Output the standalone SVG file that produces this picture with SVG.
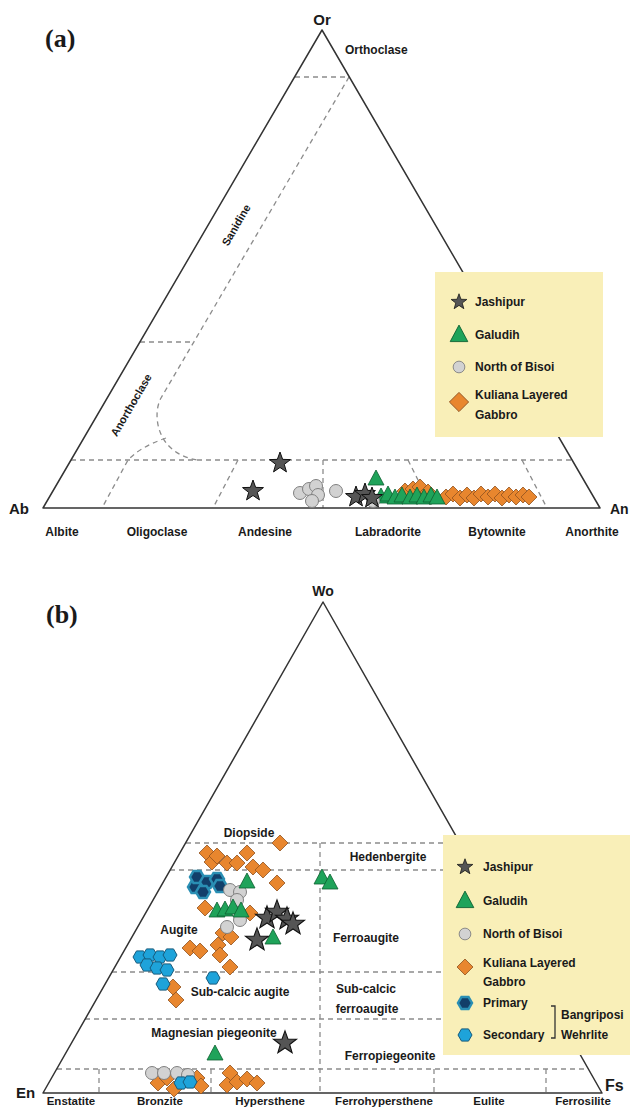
<svg xmlns="http://www.w3.org/2000/svg" xmlns:xlink="http://www.w3.org/1999/xlink" width="630" height="1109" viewBox="0 0 630 1109">
<style>
.t{font-family:"Liberation Sans","DejaVu Sans",sans-serif;font-weight:bold;font-size:12px;fill:#1a1a1a}
.c{text-anchor:middle}
.pl{font-family:"Liberation Serif","DejaVu Serif",serif;font-weight:bold;font-size:26px;fill:#1a1a1a}
.edge{fill:none;stroke:#333;stroke-width:1.5;stroke-linejoin:round}
.dash{fill:none;stroke:#8c8c8c;stroke-width:1.3;stroke-dasharray:5 4}
.leg{fill:#f9efb8}
.star{fill:#555;stroke:#111;stroke-width:1}
.tri{fill:#1fa35a;stroke:#0d5f30;stroke-width:0.8}
.cir{fill:#d2d2d2;stroke:#808080;stroke-width:1}
.dia{fill:#e8862e;stroke:#8f5220;stroke-width:0.8}
.pri{fill:#123f6a;stroke:#2a8fb4;stroke-width:2.5}
.sec{fill:#1ea3da;stroke:#175b7c;stroke-width:1}
.bl{font-size:11.5px}
</style>
<defs>
<path id="star" d="M0,-11 L2.645,-3.64 L10.46,-3.4 L4.28,1.39 L6.47,8.9 L0,4.5 L-6.47,8.9 L-4.28,1.39 L-10.46,-3.4 L-2.645,-3.64 Z"/>
<path id="tri" d="M0,-9 L8,6 L-8,6 Z"/>
<path id="dia" d="M0,-8 L8,0 L0,8 L-8,0 Z"/>
<circle id="cir" r="6.5"/>
<path id="hex" d="M7,0 L3.5,6.1 L-3.5,6.1 L-7,0 L-3.5,-6.1 L3.5,-6.1 Z"/>
</defs>

<!-- ================= Panel (a) ================= -->
<g id="panel-a">
<text class="pl" x="45" y="47">(a)</text>
<g id="a-grid">
<path class="dash" d="M295,77 H349"/>
<path class="dash" d="M349,77 L161,398 C152,414 156,454 198,460"/>
<path class="dash" d="M140,342 H194"/>
<path class="dash" d="M166,438 Q140,447 128,460 L102,508"/>
<path class="dash" d="M71,460 H572"/>
<path class="dash" d="M238,460 L213,508"/>
<path class="dash" d="M323,460 V508"/>
<path class="dash" d="M408,460 L432,508"/>
<path class="dash" d="M522,460 L547,508"/>
</g>
<path class="edge" d="M43,508 L322,30 L600,508 Z"/>
<text class="t c" x="322" y="25" style="font-size:15px">Or</text>
<text class="t" x="345" y="54">Orthoclase</text>
<text class="t c" x="236" y="229" transform="rotate(-59.7 236 225)" style="font-size:11px">Sanidine</text>
<text class="t c" x="131" y="409" transform="rotate(-59.7 131 405)" style="font-size:11px">Anorthoclase</text>
<text class="t" x="9" y="514" style="font-size:15px">Ab</text>
<text class="t" x="610" y="514" style="font-size:14px">An</text>
<text class="t c" x="62" y="536">Albite</text>
<text class="t c" x="157" y="536">Oligoclase</text>
<text class="t c" x="265" y="536">Andesine</text>
<text class="t c" x="388" y="536">Labradorite</text>
<text class="t c" x="497" y="536">Bytownite</text>
<text class="t c" x="592" y="536">Anorthite</text>

<g id="a-data">
<use href="#dia" class="dia" x="446" y="497"/>
<use href="#dia" class="dia" x="453" y="494"/>
<use href="#dia" class="dia" x="460" y="498"/>
<use href="#dia" class="dia" x="467" y="495"/>
<use href="#dia" class="dia" x="474" y="498"/>
<use href="#dia" class="dia" x="481" y="494"/>
<use href="#dia" class="dia" x="488" y="497"/>
<use href="#dia" class="dia" x="495" y="494"/>
<use href="#dia" class="dia" x="502" y="498"/>
<use href="#dia" class="dia" x="509" y="495"/>
<use href="#dia" class="dia" x="516" y="497"/>
<use href="#dia" class="dia" x="523" y="495"/>
<use href="#dia" class="dia" x="529" y="497"/>
<use href="#dia" class="dia" x="405" y="491"/>
<use href="#dia" class="dia" x="413" y="489"/>
<use href="#dia" class="dia" x="420" y="487"/>
<use href="#dia" class="dia" x="428" y="492"/>
<use href="#tri" class="tri" x="381" y="497"/>
<use href="#tri" class="tri" x="388" y="495"/>
<use href="#tri" class="tri" x="395" y="498"/>
<use href="#tri" class="tri" x="402" y="496"/>
<use href="#tri" class="tri" x="410" y="498"/>
<use href="#tri" class="tri" x="417" y="496"/>
<use href="#tri" class="tri" x="424" y="498"/>
<use href="#tri" class="tri" x="431" y="496"/>
<use href="#tri" class="tri" x="437" y="498"/>
<use href="#tri" class="tri" x="376" y="479"/>
<use href="#cir" class="cir" x="300" y="493"/>
<use href="#cir" class="cir" x="309" y="489"/>
<use href="#cir" class="cir" x="316" y="486"/>
<use href="#cir" class="cir" x="318" y="495"/>
<use href="#cir" class="cir" x="312" y="501"/>
<use href="#cir" class="cir" x="336" y="491"/>
<use href="#cir" class="cir" x="373" y="501"/>
<use href="#star" class="star" x="356" y="497"/>
<use href="#star" class="star" x="365" y="494"/>
<use href="#star" class="star" x="372" y="498"/>
<use href="#star" class="star" x="280" y="463"/>
<use href="#star" class="star" x="253" y="491"/>
</g>

<g id="legend-a">
<rect class="leg" x="435" y="272" width="168" height="165"/>
<use href="#star" class="star" transform="translate(459 302) scale(0.75)"/>
<text class="t" x="475" y="306">Jashipur</text>
<use href="#tri" class="tri" transform="translate(459 335) scale(1.1)"/>
<text class="t" x="475" y="339">Galudih</text>
<use href="#cir" class="cir" transform="translate(459 367) scale(0.9)"/>
<text class="t" x="475" y="371">North of Bisoi</text>
<use href="#dia" class="dia" transform="translate(459 402) scale(1.2)"/>
<text class="t" x="475" y="399">Kuliana Layered</text>
<text class="t" x="475" y="419">Gabbro</text>
</g>
</g>

<!-- ================= Panel (b) ================= -->
<g id="panel-b">
<text class="pl" x="46" y="623">(b)</text>
<g id="b-grid">
<path class="dash" d="M186,843 H460"/>
<path class="dash" d="M170,870 H475"/>
<path class="dash" d="M112,972 H533"/>
<path class="dash" d="M85,1019 H560"/>
<path class="dash" d="M57,1069 H588"/>
<path class="dash" d="M320,843 V1093"/>
<path class="dash" d="M99,1069 V1093"/>
<path class="dash" d="M211,1069 V1093"/>
<path class="dash" d="M434,1069 V1093"/>
<path class="dash" d="M546,1069 V1093"/>
</g>
<path class="edge" d="M43,1093 L323,602 L602,1093 Z"/>
<text class="t c" x="323" y="596" style="font-size:14px">Wo</text>
<text class="t" x="16" y="1098" style="font-size:15px">En</text>
<text class="t" x="605" y="1091" style="font-size:16px">Fs</text>
<text class="t c" x="249" y="837">Diopside</text>
<text class="t c" x="388" y="861">Hedenbergite</text>
<text class="t c" x="179" y="934">Augite</text>
<text class="t c" x="366" y="942">Ferroaugite</text>
<text class="t c" x="240" y="996">Sub-calcic augite</text>
<text class="t c" x="366" y="993">Sub-calcic</text>
<text class="t c" x="367" y="1013">ferroaugite</text>
<text class="t c" x="214" y="1037">Magnesian piegeonite</text>
<text class="t c" x="390" y="1060">Ferropiegeonite</text>
<text class="t c bl" x="71" y="1105">Enstatite</text>
<text class="t c bl" x="160" y="1105">Bronzite</text>
<text class="t c bl" x="270" y="1105">Hypersthene</text>
<text class="t c bl" x="384" y="1105">Ferrohypersthene</text>
<text class="t c bl" x="489" y="1105">Eulite</text>
<text class="t c bl" x="583" y="1105">Ferrosilite</text>

<g id="b-data">
<use href="#dia" class="dia" x="280" y="843"/>
<use href="#dia" class="dia" x="207" y="853"/>
<use href="#dia" class="dia" x="212" y="862"/>
<use href="#dia" class="dia" x="217" y="856"/>
<use href="#dia" class="dia" x="227" y="863"/>
<use href="#dia" class="dia" x="237" y="863"/>
<use href="#dia" class="dia" x="247" y="853"/>
<use href="#dia" class="dia" x="253" y="867"/>
<use href="#dia" class="dia" x="263" y="870"/>
<use href="#dia" class="dia" x="277" y="883"/>
<use href="#dia" class="dia" x="205" y="908"/>
<use href="#dia" class="dia" x="250" y="913"/>
<use href="#dia" class="dia" x="223" y="933"/>
<use href="#dia" class="dia" x="231" y="937"/>
<use href="#dia" class="dia" x="190" y="948"/>
<use href="#dia" class="dia" x="200" y="951"/>
<use href="#dia" class="dia" x="218" y="945"/>
<use href="#dia" class="dia" x="220" y="955"/>
<use href="#dia" class="dia" x="230" y="967"/>
<use href="#dia" class="dia" x="173" y="987"/>
<use href="#dia" class="dia" x="176" y="1000"/>
<use href="#dia" class="dia" x="158" y="1083"/>
<use href="#dia" class="dia" x="167" y="1078"/>
<use href="#dia" class="dia" x="174" y="1089"/>
<use href="#dia" class="dia" x="197" y="1078"/>
<use href="#dia" class="dia" x="201" y="1086"/>
<use href="#dia" class="dia" x="230" y="1073"/>
<use href="#dia" class="dia" x="227" y="1085"/>
<use href="#dia" class="dia" x="237" y="1082"/>
<use href="#dia" class="dia" x="247" y="1079"/>
<use href="#dia" class="dia" x="257" y="1083"/>
<use href="#cir" class="cir" x="152" y="1073"/>
<use href="#cir" class="cir" x="164" y="1073"/>
<use href="#cir" class="cir" x="177" y="1073"/>
<use href="#cir" class="cir" x="188" y="1075"/>
<use href="#hex" class="sec" x="140" y="957"/>
<use href="#hex" class="sec" x="150" y="955"/>
<use href="#hex" class="sec" x="160" y="957"/>
<use href="#hex" class="sec" x="170" y="955"/>
<use href="#hex" class="sec" x="147" y="965"/>
<use href="#hex" class="sec" x="157" y="968"/>
<use href="#hex" class="sec" x="167" y="970"/>
<use href="#hex" class="sec" x="163" y="984"/>
<use href="#hex" class="sec" x="213" y="978"/>
<use href="#hex" class="sec" x="181" y="1083"/>
<use href="#hex" class="sec" x="190" y="1082"/>
<use href="#hex" class="pri" x="195" y="887"/>
<use href="#hex" class="pri" x="197" y="877"/>
<use href="#hex" class="pri" x="207" y="882"/>
<use href="#hex" class="pri" x="217" y="879"/>
<use href="#hex" class="pri" x="203" y="892"/>
<use href="#hex" class="pri" x="220" y="886"/>
<use href="#cir" class="cir" x="230" y="890"/>
<use href="#cir" class="cir" x="240" y="892"/>
<use href="#cir" class="cir" x="237" y="900"/>
<use href="#cir" class="cir" x="240" y="920"/>
<use href="#cir" class="cir" x="227" y="927"/>
<use href="#tri" class="tri" x="247" y="882"/>
<use href="#tri" class="tri" x="217" y="911"/>
<use href="#tri" class="tri" x="225" y="910"/>
<use href="#tri" class="tri" x="233" y="908"/>
<use href="#tri" class="tri" x="241" y="911"/>
<use href="#tri" class="tri" x="273" y="938"/>
<use href="#tri" class="tri" x="322" y="878"/>
<use href="#tri" class="tri" x="330" y="883"/>
<use href="#tri" class="tri" x="215" y="1054"/>
<use href="#star" class="star" transform="translate(267 918) scale(1.1)"/>
<use href="#star" class="star" transform="translate(277 912) scale(1.1)"/>
<use href="#star" class="star" transform="translate(287 919) scale(1.1)"/>
<use href="#star" class="star" transform="translate(293 924) scale(1.1)"/>
<use href="#star" class="star" transform="translate(257 940) scale(1.1)"/>
<use href="#star" class="star" transform="translate(285 1043) scale(1.1)"/>
</g>

<g id="legend-b">
<rect class="leg" x="443" y="835" width="187" height="220"/>
<use href="#star" class="star" transform="translate(465 867) scale(0.75)"/>
<text class="t" x="483" y="871">Jashipur</text>
<use href="#tri" class="tri" transform="translate(465 901) scale(1.1)"/>
<text class="t" x="483" y="905">Galudih</text>
<use href="#cir" class="cir" transform="translate(465 934) scale(0.9)"/>
<text class="t" x="483" y="938">North of Bisoi</text>
<use href="#dia" class="dia" transform="translate(465 967) scale(1.0)"/>
<text class="t" x="483" y="967">Kuliana Layered</text>
<text class="t" x="483" y="986">Gabbro</text>
<use href="#hex" class="pri" x="465" y="1003"/>
<text class="t" x="483" y="1007">Primary</text>
<use href="#hex" class="sec" x="465" y="1035"/>
<text class="t" x="483" y="1039">Secondary</text>
<path d="M551,1006 H555 V1038 H551" fill="none" stroke="#333" stroke-width="1.3"/>
<text class="t" x="561" y="1019">Bangriposi</text>
<text class="t" x="561" y="1039">Wehrlite</text>
</g>
</g>
</svg>
